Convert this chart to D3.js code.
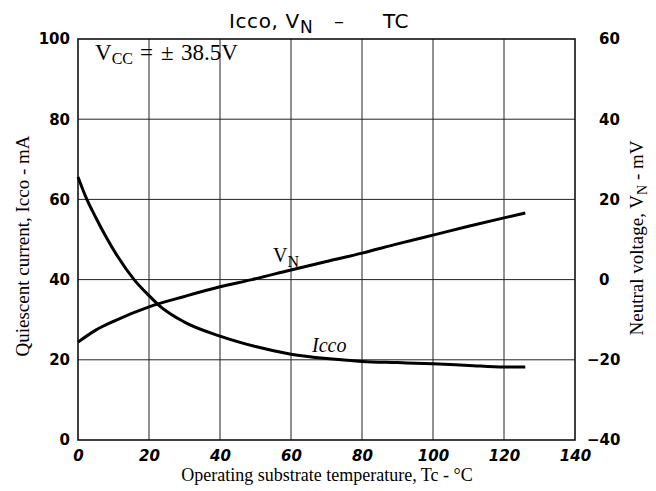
<!DOCTYPE html>
<html><head><meta charset="utf-8">
<script src="https://cdn.jsdelivr.net/npm/d3@7"></script>
<style>body{margin:0;background:#fff}</style>
</head><body>
<svg id="c" width="656" height="491"></svg>
<script>
const xTicks = [0,20,40,60,80,100,120,140];
const yLeftTicks = [0,20,40,60,80,100];
const yRightTicks = [-40,-20,0,20,40,60];
const iccoT = [0,2.5,5,8,11,15.8,20,22.8,30,40,50,60,70,80,90,100,110,120,126];
const iccoV = [65.6,60,55.5,50.5,46,40,36,33.6,29.4,25.9,23.3,21.4,20.3,19.6,19.3,19.0,18.6,18.2,18.2];
const vnT = [0,5,10,20,30,40,49,60,70,80,90,100,110,120,126];
const vnV = [-15.6,-12.6,-10.4,-6.8,-4.2,-1.8,0,2.4,4.5,6.6,8.9,11.1,13.3,15.4,16.6];

const svg = d3.select("#c");
const x = d3.scaleLinear().domain([0,140]).range([78,575]);
const yL = d3.scaleLinear().domain([0,100]).range([440,39]);
const yR = d3.scaleLinear().domain([-40,60]).range([440,39]);

// grid
svg.append("g").selectAll("line").data(xTicks.slice(1,-1)).join("line")
  .attr("x1",d=>x(d)).attr("x2",d=>x(d)).attr("y1",yL(100)).attr("y2",yL(0))
  .attr("stroke","#222").attr("stroke-width",1);
svg.append("g").selectAll("line").data(yLeftTicks.slice(1,-1)).join("line")
  .attr("y1",d=>yL(d)).attr("y2",d=>yL(d)).attr("x1",x(0)).attr("x2",x(140))
  .attr("stroke","#222").attr("stroke-width",1);
svg.append("rect").attr("x",x(0)).attr("y",yL(100)).attr("width",x(140)-x(0)).attr("height",yL(0)-yL(100))
  .attr("fill","none").attr("stroke","#111").attr("stroke-width",1.6);

const tickFont = "'DejaVu Sans', sans-serif";
const ax = svg.append("g").attr("transform",`translate(0,${yL(0)})`)
  .call(d3.axisBottom(x).tickValues(xTicks).tickSize(0).tickPadding(10).tickFormat(d3.format("d")));
ax.select(".domain").remove();
ax.selectAll("text").attr("font-family",tickFont).attr("font-weight","bold").attr("font-size",15).attr("fill","#000").attr("font-style","italic");
const al = svg.append("g").attr("transform",`translate(${x(0)},0)`)
  .call(d3.axisLeft(yL).tickValues(yLeftTicks).tickSize(0).tickPadding(8).tickFormat(d3.format("d")));
al.select(".domain").remove();
al.selectAll("text").attr("font-family",tickFont).attr("font-weight","bold").attr("font-size",15).attr("fill","#000");
const ar = svg.append("g").attr("transform",`translate(${x(140)},0)`)
  .call(d3.axisRight(yR).tickValues(yRightTicks).tickSize(0).tickPadding(24).tickFormat(d=>d<0?"\u2212"+(-d):d));
ar.select(".domain").remove();
ar.selectAll("text").attr("font-family",tickFont).attr("font-weight","bold").attr("font-size",15).attr("fill","#000")
  .attr("dx",d=>d<0?-12:0);

// curves
const lineI = d3.line().x((d,i)=>x(iccoT[i])).y(d=>yL(d)).curve(d3.curveMonotoneX);
svg.append("path").attr("d",lineI(iccoV)).attr("fill","none").attr("stroke","#000").attr("stroke-width",3);
const lineV = d3.line().x((d,i)=>x(vnT[i])).y(d=>yR(d)).curve(d3.curveMonotoneX);
svg.append("path").attr("d",lineV(vnV)).attr("fill","none").attr("stroke","#000").attr("stroke-width",3);

const serif = "'Liberation Serif', 'Times New Roman', serif";
const vnL = svg.append("text").attr("x",273).attr("y",262).attr("font-family",serif).attr("font-size",20);
vnL.append("tspan").text("V");
vnL.append("tspan").attr("dy",5).attr("font-size",16).text("N");
svg.append("text").attr("x",312).attr("y",352).attr("font-family",serif).attr("font-size",20).attr("font-style","italic").text("Icco");

// Vcc
const vc = svg.append("text").attr("y",60).attr("font-family",serif).attr("font-size",23);
vc.append("tspan").attr("x",95).text("V");
vc.append("tspan").attr("dy",4).attr("font-size",16).text("CC");
vc.append("tspan").attr("dy",-4).attr("x",140).text("=");
vc.append("tspan").attr("x",161).text("\u00b1");
vc.append("tspan").attr("x",181).text("38.5V");

// title
const tf = "'DejaVu Sans', sans-serif";
const t = svg.append("text").attr("y",28).attr("font-family",tf).attr("font-size",20).attr("fill","#000");
t.append("tspan").attr("x",229).attr("letter-spacing",0.6).text("Icco, V");
t.append("tspan").attr("x",300).attr("dy",5).attr("font-size",17).text("N");
t.append("tspan").attr("x",334).attr("dy",-5).text("\u2013");
t.append("tspan").attr("x",383).attr("letter-spacing",0.5).text("TC");

// axis titles
svg.append("text").attr("x",327).attr("y",481).attr("text-anchor","middle").attr("font-family",serif).attr("font-size",18)
  .text("Operating substrate temperature, Tc - \u00b0C");
svg.append("text").attr("transform","translate(29,246) rotate(-90)").attr("text-anchor","middle").attr("font-family",serif).attr("font-size",19)
  .text("Quiescent current, Icco - mA");
const rl = svg.append("text").attr("transform","translate(643,238) rotate(-90)").attr("text-anchor","middle").attr("font-family",serif).attr("font-size",19);
rl.append("tspan").text("Neutral voltage, V");
rl.append("tspan").attr("dy",4).attr("font-size",14).text("N");
rl.append("tspan").attr("dy",-4).text(" - mV");
</script>
</body></html>
